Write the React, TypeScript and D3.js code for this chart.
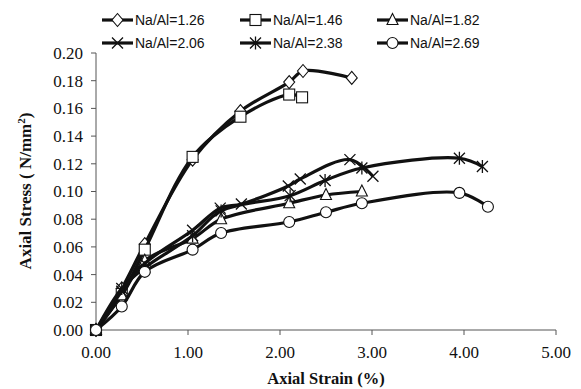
import React from "react";
import * as d3 from "d3";

const seriesNames = ["Na/Al=1.26", "Na/Al=1.46", "Na/Al=1.82", "Na/Al=2.06", "Na/Al=2.38", "Na/Al=2.69"];
const markers = ["diamond", "square", "triangle", "x", "asterisk", "circle"];

const s126x = [0, 0.28, 0.53, 1.05, 1.57, 2.1, 2.25, 2.78];
const s126y = [0, 0.03, 0.062, 0.123, 0.158, 0.179, 0.187, 0.182];
const s146x = [0, 0.28, 0.53, 1.05, 1.57, 2.1, 2.24];
const s146y = [0, 0.026, 0.058, 0.125, 0.154, 0.17, 0.168];
const s182x = [0, 0.28, 0.53, 1.05, 1.36, 2.1, 2.5, 2.89];
const s182y = [0, 0.025, 0.05, 0.066, 0.08, 0.0915, 0.0975, 0.1];
const s206x = [0, 0.28, 0.53, 1.05, 1.35, 1.58, 2.09, 2.22, 2.76, 3.01];
const s206y = [0, 0.028, 0.048, 0.072, 0.088, 0.091, 0.104, 0.109, 0.123, 0.111];
const s238x = [0, 0.28, 0.53, 1.05, 1.36, 2.11, 2.49, 2.89, 3.95, 4.2];
const s238y = [0, 0.03, 0.045, 0.068, 0.086, 0.097, 0.108, 0.117, 0.124, 0.118];
const s269x = [0, 0.28, 0.53, 1.05, 1.36, 2.1, 2.5, 2.89, 3.95, 4.26];
const s269y = [0, 0.017, 0.042, 0.058, 0.07, 0.078, 0.085, 0.0915, 0.099, 0.089];

const allX = [s126x, s146x, s182x, s206x, s238x, s269x];
const allY = [s126y, s146y, s182y, s206y, s238y, s269y];

const xTicks = [0, 1, 2, 3, 4, 5];
const yTicks = [0, 0.02, 0.04, 0.06, 0.08, 0.1, 0.12, 0.14, 0.16, 0.18, 0.2];

function Marker({ type, x, y }: { type: string; x: number; y: number }) {
  const s = 5.5;
  const st = { fill: "white", stroke: "#111", strokeWidth: 1.1 } as any;
  if (type === "diamond")
    return <path d={`M${x},${y - s - 1}L${x + s},${y}L${x},${y + s + 1}L${x - s},${y}Z`} {...st} />;
  if (type === "square") return <rect x={x - s} y={y - s} width={2 * s} height={2 * s} {...st} />;
  if (type === "triangle")
    return <path d={`M${x},${y - s - 1}L${x + s},${y + s - 1}L${x - s},${y + s - 1}Z`} {...st} />;
  if (type === "circle") return <circle cx={x} cy={y} r={s} {...st} />;
  if (type === "x")
    return <path d={`M${x - s},${y - s}L${x + s},${y + s}M${x - s},${y + s}L${x + s},${y - s}`} stroke="#111" strokeWidth={1.3} />;
  return (
    <path
      d={`M${x - s},${y - s}L${x + s},${y + s}M${x - s},${y + s}L${x + s},${y - s}M${x},${y - s - 1}L${x},${y + s + 1}`}
      stroke="#111"
      strokeWidth={1.3}
    />
  );
}

export default function App() {
  const W = 581, H = 389;
  const x = d3.scaleLinear().domain([0, 5]).range([96, 556]);
  const y = d3.scaleLinear().domain([0, 0.2]).range([330, 53]);
  const line = d3
    .line<[number, number]>()
    .x((d) => x(d[0]))
    .y((d) => y(d[1]))
    .curve(d3.curveCatmullRom.alpha(0.5));

  const serif = "Liberation Serif, Times New Roman, serif";
  const sans = "Liberation Sans, Arial, sans-serif";

  const legendCols = [102, 240, 377];
  const legendRows = [20, 43];

  return (
    <svg width={W} height={H} style={{ position: "absolute", left: 0, top: 0, background: "white" }}>
      {/* axes */}
      <line x1={96} x2={96} y1={y(0.2)} y2={y(0)} stroke="#555" strokeWidth={1} />
      <line x1={96} x2={556} y1={y(0)} y2={y(0)} stroke="#555" strokeWidth={1} />
      {yTicks.map((t) => (
        <g key={"y" + t}>
          <line x1={91} x2={96} y1={y(t)} y2={y(t)} stroke="#555" />
          <text x={83} y={y(t)} dy="0.35em" textAnchor="end" fontFamily={serif} fontSize={17} fill="#111">
            {t.toFixed(2)}
          </text>
        </g>
      ))}
      {xTicks.map((t) => (
        <g key={"x" + t}>
          <line x1={x(t)} x2={x(t)} y1={330} y2={335} stroke="#555" />
          <text x={x(t)} y={352} dy="0.35em" textAnchor="middle" fontFamily={serif} fontSize={17} fill="#111">
            {t.toFixed(2)}
          </text>
        </g>
      ))}
      <text x={326} y={378} dy="0.35em" textAnchor="middle" fontFamily={serif} fontSize={16.5} fontWeight="bold" fill="#111">
        Axial Strain (%)
      </text>
      <text
        transform={`translate(25,191) rotate(-90)`}
        dy="0.35em"
        textAnchor="middle"
        fontFamily={serif}
        fontSize={17}
        fontWeight="bold"
        fill="#111"
      >
        Axial Stress ( N/mm<tspan dy="-6" fontSize={11}>2</tspan>
        <tspan dy="6">)</tspan>
      </text>

      {/* series */}
      {allX.map((xs, i) => {
        const pts = xs.map((v, j) => [v, allY[i][j]] as [number, number]);
        return (
          <g key={"s" + i}>
            <path d={line(pts) || ""} fill="none" stroke="#111" strokeWidth={3.2} />
            {pts.map((p, j) => (
              <Marker key={j} type={markers[i]} x={x(p[0])} y={y(p[1])} />
            ))}
          </g>
        );
      })}

      {/* legend */}
      {seriesNames.map((n, i) => {
        const lx = legendCols[i % 3];
        const ly = legendRows[Math.floor(i / 3)];
        return (
          <g key={"l" + i}>
            <line x1={lx} x2={lx + 31} y1={ly} y2={ly} stroke="#111" strokeWidth={3.2} />
            <Marker type={markers[i]} x={lx + 15.5} y={ly} />
            <text x={lx + 33} y={ly} dy="0.35em" fontFamily={sans} fontSize={14} fill="#111">
              {n}
            </text>
          </g>
        );
      })}
    </svg>
  );
}
